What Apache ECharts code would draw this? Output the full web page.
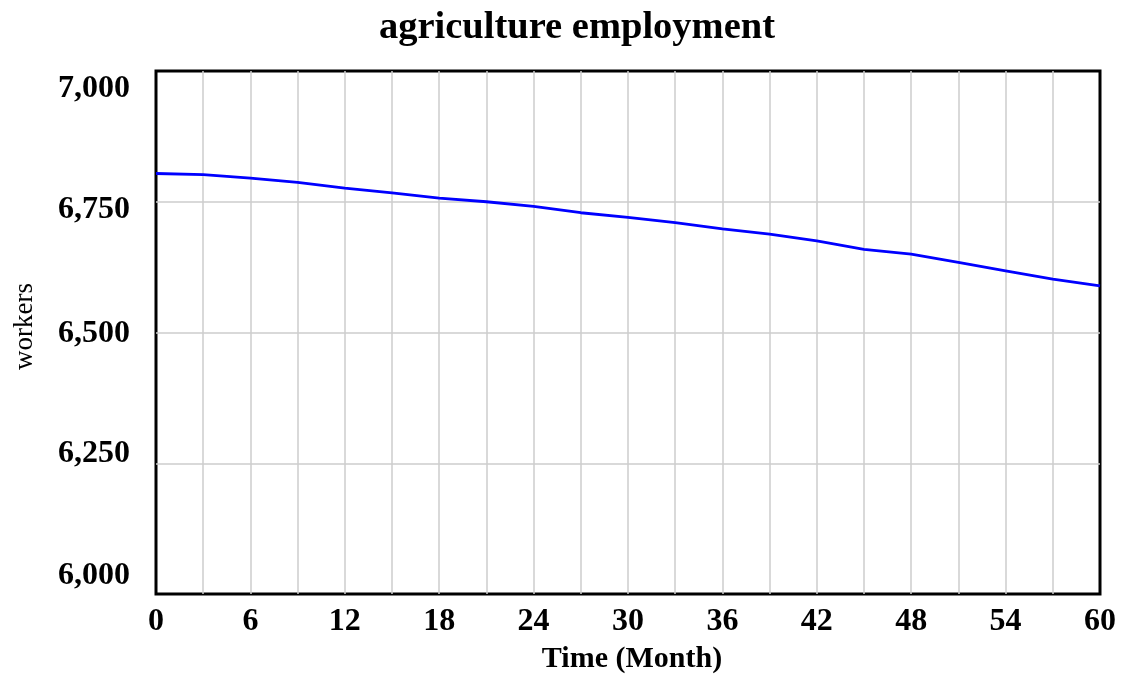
<!DOCTYPE html>
<html>
<head>
<meta charset="utf-8">
<script src="https://cdn.jsdelivr.net/npm/echarts@6/dist/echarts.min.js"></script>
<style>
  html, body { margin: 0; padding: 0; background: #ffffff; }
  #chart { width: 1128px; height: 679px; }
</style>
</head>
<body>
<div id="chart"></div>
<script>
const titleText = 'agriculture employment';
const xAxisName = 'Time (Month)';
const yAxisName = 'workers';
const months = [0, 3, 6, 9, 12, 15, 18, 21, 24, 27, 30, 33, 36, 39, 42, 45, 48, 51, 54, 57, 60];
const workers = [6804, 6802, 6795, 6787, 6776, 6767, 6757, 6750, 6741, 6729, 6720, 6710, 6698, 6688, 6675, 6659, 6650, 6634, 6618, 6602, 6589];
const yTicks = [6000, 6250, 6500, 6750, 7000];

const FONT = '"Liberation Serif", "Times New Roman", serif';
const labelShift = {6000: -18, 6250: -10, 6500: 1, 6750: 8, 7000: 18};

const rich = {};
yTicks.forEach(function (v) {
  const s = labelShift[v];
  rich['t' + v] = {
    fontFamily: FONT, fontWeight: 'bold', fontSize: 32, color: '#000',
    padding: s >= 0 ? [2 * s, 0, 0, 0] : [0, 0, -2 * s, 0]
  };
});

const chart = echarts.init(document.getElementById('chart'), null, {renderer: 'canvas'});
chart.setOption({
  animation: false,
  backgroundColor: '#ffffff',
  title: {
    text: titleText,
    left: 374,
    top: 4,
    textStyle: {fontFamily: FONT, fontWeight: 'bold', fontSize: 38.5, color: '#000'}
  },
  grid: {
    left: 156, right: 28, top: 71, bottom: 85,
    outerBoundsMode: 'none',
    containLabel: false,
    show: true, borderColor: '#000', borderWidth: 3, backgroundColor: 'transparent'
  },
  xAxis: {
    type: 'value',
    min: 0, max: 60, interval: 3,
    name: xAxisName,
    nameLocation: 'middle',
    nameGap: 50,
    nameTextStyle: {fontFamily: FONT, fontWeight: 'bold', fontSize: 30, color: '#000', padding: [0, 0, 0, 8]},
    axisLine: {show: false},
    axisTick: {show: false},
    splitLine: {show: true, showMinLine: false, showMaxLine: false, lineStyle: {color: '#cccccc', width: 1.5}},
    axisLabel: {
      margin: 12,
      fontFamily: FONT, fontWeight: 'bold', fontSize: 32, color: '#000',
      formatter: function (v) { return v % 6 === 0 ? String(v) : ''; }
    }
  },
  yAxis: {
    type: 'value',
    min: 6000, max: 7000, interval: 250,
    name: yAxisName,
    nameLocation: 'middle',
    nameGap: 118,
    nameRotate: 90,
    nameTextStyle: {fontFamily: FONT, fontWeight: 'normal', fontSize: 27, color: '#000', padding: [0, 0, 0, 12]},
    axisLine: {show: false},
    axisTick: {show: false},
    splitLine: {show: true, showMinLine: false, showMaxLine: false, lineStyle: {color: '#cccccc', width: 1.5}},
    axisLabel: {
      margin: 26,
      formatter: function (v) {
        return '{t' + v + '|' + v.toLocaleString('en-US') + '}';
      },
      rich: rich
    }
  },
  series: [{
    type: 'line',
    data: months.map(function (m, i) { return [m, workers[i]]; }),
    showSymbol: false,
    lineStyle: {color: '#0000ff', width: 2.8},
    itemStyle: {color: '#0000ff'},
    clip: true
  }]
});
</script>
</body>
</html>
